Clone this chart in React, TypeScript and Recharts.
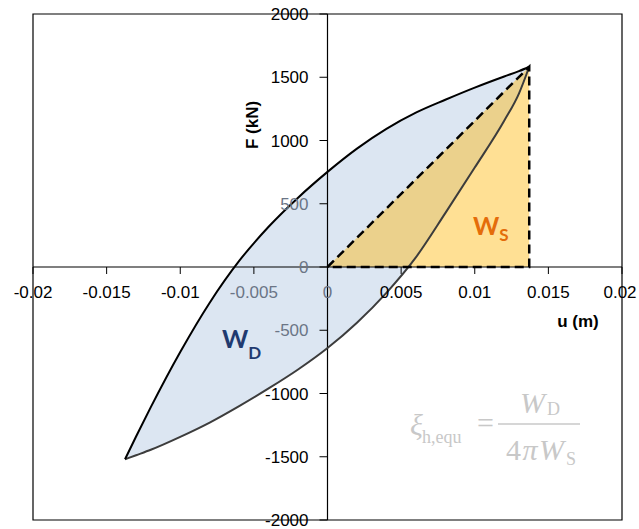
import React from "react"
import { Area, ComposedChart, Line, ReferenceArea, ReferenceLine, XAxis, YAxis } from "recharts"

// displacement samples shared by both branches of the loop (m)
const uSamples = [
  -0.01375, -0.013, -0.012, -0.01, -0.008, -0.006, -0.004, -0.002, 0, 0.002, 0.004, 0.006, 0.008,
  0.01, 0.012, 0.013, 0.0137,
]
// unloading branch, upper edge of the loop (kN)
const upperF = [
  -1520, -1340, -1108, -672, -282, 48, 318, 548, 752, 936, 1092, 1220, 1322, 1418, 1506, 1548, 1583,
]
// loading branch, lower edge of the loop (kN)
const lowerF = [
  -1520, -1488, -1445, -1343, -1230, -1100, -960, -810, -640, -440, -204, 76, 426, 786, 1156, 1371,
  1583,
]
// peak of the cycle, corner of the strain energy triangle
const peakU = 0.0137
const peakF = 1583

const xTicks = [-0.02, -0.015, -0.01, -0.005, 0, 0.005, 0.01, 0.015, 0.02]
const yTicks = [-2000, -1500, -1000, -500, 0, 500, 1000, 1500, 2000]

const loopData = uSamples.map((u, i) => ({
  u,
  upper: upperF[i],
  lower: lowerF[i],
  band: [lowerF[i], upperF[i]],
}))
const triangleData = [
  { u: 0, tri: [0, 0] },
  { u: peakU, tri: [0, peakF] },
]
const secantData = [
  { u: 0, F: 0 },
  { u: peakU, F: peakF },
  { u: peakU, F: 0 },
  { u: 0, F: 0 },
]

const interp = (ys: number[], u: number) => {
  for (let i = 1; i < uSamples.length; i++) {
    if (u <= uSamples[i]) {
      const t = (u - uSamples[i - 1]) / (uSamples[i] - uSamples[i - 1])
      return ys[i - 1] + t * (ys[i] - ys[i - 1])
    }
  }
  return ys[ys.length - 1]
}
// tick labels that fall inside the loop are seen through its translucent fill
const insideLoop = (u: number, F: number) =>
  u > uSamples[0] && u < uSamples[uSamples.length - 1] && F > interp(lowerF, u) && F < interp(upperF, u)

// the chart covers the whole page (body margin is reset below)
const W = 639
const H = 529
// axes get 1px each (a zero-sized axis renders no ticks)
const margin = { top: 14, right: 17, bottom: 8, left: 32 }
const plotLeft = margin.left + 1
const plotW = W - plotLeft - margin.right
const plotH = H - margin.top - margin.bottom - 1
// both domains are symmetric, so the axes cross in the middle of the plot
const zeroX = plotLeft + plotW / 2
const zeroY = margin.top + plotH / 2

const sans = "'Liberation Sans', Arial, sans-serif"
const serif = "'Liberation Serif', 'Times New Roman', serif"
const tickFont = 17
const grey = "#c8c8c8"
const shaded = "#6b7586"

const XTick = (props: any) => {
  const { x, payload } = props
  const fill = insideLoop(payload.value, -200) ? shaded : "#000"
  // keep the last label inside the page
  const tx = Math.min(x, W - 19)
  return (
    <g>
      <line x1={x} x2={x} y1={zeroY} y2={zeroY + 7} stroke="#000" />
      <text x={tx} y={zeroY + 31} textAnchor="middle" fontFamily={sans} fontSize={tickFont} fill={fill}>
        {String(payload.value)}
      </text>
    </g>
  )
}

const YTick = (props: any) => {
  const { y, payload } = props
  const fill = insideLoop(-0.0023, payload.value) ? shaded : "#000"
  return (
    <g>
      <line x1={zeroX - 8} x2={zeroX} y1={y} y2={y} stroke="#000" />
      <text x={zeroX - 19} y={y + 6} textAnchor="end" fontFamily={sans} fontSize={tickFont} fill={fill}>
        {String(payload.value)}
      </text>
    </g>
  )
}

// titles and energy labels sit above every series
const Annotations = () => (
  <svg width={W} height={H} style={{ position: "absolute", left: 0, top: 0, pointerEvents: "none" }}>
    <text
      transform={`translate(${zeroX - 76}, 125) rotate(-90)`}
      y={6}
      textAnchor="middle"
      fontFamily={sans}
      fontSize={17}
      fontWeight="bold"
    >
      F (kN)
    </text>
    <text x={578} y={327} textAnchor="middle" fontFamily={sans} fontSize={17} fontWeight="bold">
      u (m)
    </text>

    <text x={222} y={348} fontFamily="Lato, sans-serif" fontWeight="bold" fill="#1f3a70">
      <tspan fontSize={25}>W</tspan>
      <tspan fontSize={17} dy={11}>
        D
      </tspan>
    </text>
    <text x={473} y={235} fontFamily="Lato, sans-serif" fontWeight="bold" fill="#e46c0a">
      <tspan fontSize={25}>W</tspan>
      <tspan fontSize={17} dy={6}>
        S
      </tspan>
    </text>

    {/* equivalent hysteretic damping ratio */}
    <g fill={grey} fontFamily={serif}>
      <text x={410} y={435} fontSize={30} fontStyle="italic">
        ξ
      </text>
      <text x={422} y={443} fontSize={18}>
        h,equ
      </text>
      <text x={477} y={433} fontSize={30}>
        =
      </text>
      <line x1={498} x2={580} y1={424} y2={424} stroke={grey} strokeWidth={1.5} />
      <text x={520} y={413} fontSize={30} fontStyle="italic">
        W
      </text>
      <text x={547} y={415} fontSize={18}>
        D
      </text>
      <text x={506} y={460} fontSize={30} letterSpacing={1.5}>
        4<tspan fontStyle="italic">πW</tspan>
      </text>
      <text x={566} y={465} fontSize={18}>
        S
      </text>
    </g>
  </svg>
)

export default function App() {
  return (
    <div style={{ position: "relative", width: W, height: H }}>
      <style>{"body { margin: 0; }"}</style>
      <ComposedChart width={W} height={H} margin={margin} data={loopData}>
        <ReferenceArea x1={-0.02} x2={0.02} y1={-2000} y2={2000} fill="none" stroke="#000" strokeWidth={1.2} />
        <ReferenceLine x={0} stroke="#000" strokeWidth={1.2} />
        <ReferenceLine y={0} stroke="#000" strokeWidth={1.2} />
        <XAxis
          type="number"
          dataKey="u"
          domain={[-0.02, 0.02]}
          ticks={xTicks}
          interval={0}
          height={1}
          axisLine={false}
          tickLine={false}
          tick={XTick}
          allowDataOverflow
        />
        <YAxis
          type="number"
          domain={[-2000, 2000]}
          ticks={yTicks}
          interval={0}
          width={1}
          axisLine={false}
          tickLine={false}
          tick={YTick}
          allowDataOverflow
        />

        {/* dissipated energy W_D: area inside the loop */}
        <Area
          data={loopData}
          dataKey="band"
          type="monotone"
          fill="#b9cde5"
          fillOpacity={0.5}
          stroke="none"
          isAnimationActive={false}
          activeDot={false}
        />
        <Line
          data={loopData}
          dataKey="lower"
          type="monotone"
          stroke="#3c3c3c"
          strokeWidth={2}
          dot={false}
          activeDot={false}
          isAnimationActive={false}
        />
        <Line
          data={loopData}
          dataKey="upper"
          type="monotone"
          stroke="#000"
          strokeWidth={2}
          dot={false}
          activeDot={false}
          isAnimationActive={false}
        />

        {/* strain energy W_S: triangle under the secant to the peak */}
        <Area
          data={triangleData}
          dataKey="tri"
          type="linear"
          fill="#ffb400"
          fillOpacity={0.42}
          stroke="none"
          isAnimationActive={false}
          activeDot={false}
        />
        <Line
          data={secantData}
          dataKey="F"
          type="linear"
          stroke="#000"
          strokeWidth={2.5}
          strokeDasharray="9 5"
          dot={false}
          activeDot={false}
          isAnimationActive={false}
        />
      </ComposedChart>
      <Annotations />
    </div>
  )
}
